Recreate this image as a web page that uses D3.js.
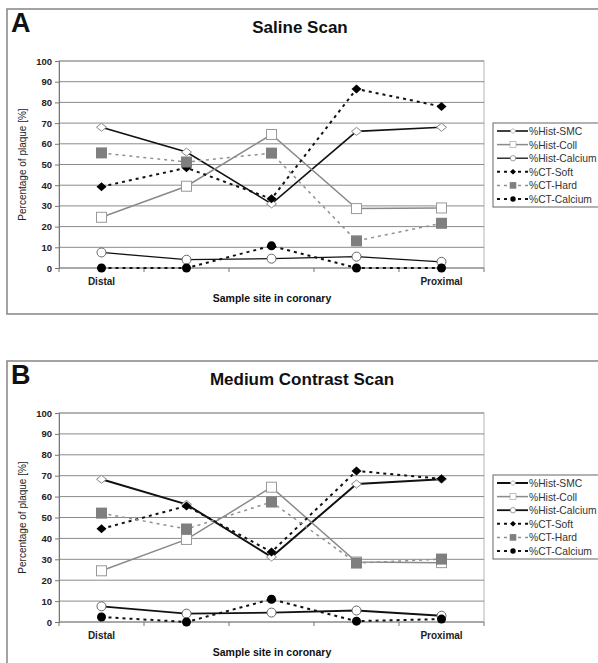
<!DOCTYPE html>
<html>
<head>
<meta charset="utf-8">
<script src="https://cdn.jsdelivr.net/npm/d3@7"></script>
<style>
  body { margin: 0; background: #fff; }
  svg { display: block; font-family: Arial, "Liberation Sans", sans-serif; }
</style>
</head>
<body>
<svg id="chart" width="598" height="663"></svg>
<script>
// sites along the coronary, only the ends are labelled
var sites = ["s1", "s2", "s3", "s4", "s5"];
var siteLabels = ["Distal", "", "", "", "Proximal"];
var yTicks = [0, 10, 20, 30, 40, 50, 60, 70, 80, 90, 100];
var seriesNames = ["%Hist-SMC", "%Hist-Coll", "%Hist-Calcium", "%CT-Soft", "%CT-Hard", "%CT-Calcium"];

// panel A - saline scan
var salineHistSMC = [68, 56, 31, 66, 68];
var salineHistColl = [24.5, 39.5, 64.5, 28.7, 29];
var salineHistCalcium = [7.5, 4, 4.5, 5.5, 3];
var salineCTSoft = [39.3, 48.4, 33.4, 86.5, 78];
var salineCTHard = [55.6, 51.2, 55.5, 13.1, 21.6];
var salineCTCalcium = [0, 0, 10.7, 0, 0];

// panel B - medium contrast scan
var mediumHistSMC = [68.3, 56.3, 31.1, 66, 68.3];
var mediumHistColl = [24.5, 39.5, 64.5, 28.7, 28.4];
var mediumHistCalcium = [7.5, 4, 4.5, 5.5, 3];
var mediumCTSoft = [44.6, 55.5, 33.5, 72.3, 68.5];
var mediumCTHard = [52.1, 44.5, 57.4, 28.2, 30.1];
var mediumCTCalcium = [2.4, 0, 10.9, 0.4, 1.4];

// line / marker style for each series
var styles = [
  { color: "#111", width: 1.6, dash: null, marker: "diamondOpen" },
  { color: "#8a8a8a", width: 1.5, dash: null, marker: "squareOpen" },
  { color: "#111", width: 1.3, dash: null, marker: "circleOpen" },
  { color: "#111", width: 2, dash: "3,4", marker: "diamond" },
  { color: "#909090", width: 1.5, dash: "3,4", marker: "squareGray" },
  { color: "#111", width: 2, dash: "3,4", marker: "circle" }
];

var svg = d3.select("#chart");

function diamondPath(w, h) {
  return "M0," + (-h) + "L" + w + ",0L0," + h + "L" + (-w) + ",0Z";
}

function drawMarker(g, type, x, y) {
  if (type == "diamondOpen") {
    g.append("path").attr("d", diamondPath(5, 4))
      .attr("transform", "translate(" + x + "," + y + ")")
      .attr("fill", "#fff").attr("stroke", "#888").attr("stroke-width", 1);
  } else if (type == "squareOpen") {
    g.append("rect").attr("x", x - 5).attr("y", y - 5).attr("width", 10).attr("height", 10)
      .attr("fill", "#fff").attr("stroke", "#999").attr("stroke-width", 1);
  } else if (type == "circleOpen") {
    g.append("circle").attr("cx", x).attr("cy", y).attr("r", 4.5)
      .attr("fill", "#fff").attr("stroke", "#666").attr("stroke-width", 1);
  } else if (type == "diamond") {
    g.append("path").attr("d", diamondPath(5, 4.5))
      .attr("transform", "translate(" + x + "," + y + ")")
      .attr("fill", "#000");
  } else if (type == "squareGray") {
    g.append("rect").attr("x", x - 5.5).attr("y", y - 5.5).attr("width", 11).attr("height", 11)
      .attr("fill", "#7f7f7f");
  } else {
    g.append("circle").attr("cx", x).attr("cy", y).attr("r", 4.5).attr("fill", "#000");
  }
}

function drawPanel(opt) {
  var g = svg.append("g");

  // outer frame
  g.append("rect").attr("x", 7).attr("y", opt.top).attr("width", 620).attr("height", opt.frameH)
    .attr("fill", "none").attr("stroke", "#8c8c8c").attr("stroke-width", 1.6);

  g.append("text").attr("x", 11).attr("y", opt.top + 23).text(opt.letter)
    .attr("font-size", 27).attr("font-weight", "bold").attr("fill", "#111");

  g.append("text").attr("x", opt.titleX).attr("y", opt.top + 24).text(opt.title)
    .attr("text-anchor", "middle").attr("font-size", 17).attr("font-weight", "bold").attr("fill", "#111");

  var x = d3.scaleBand().domain(sites).range([59, 484]);
  var y = d3.scaleLinear().domain([0, 100]).range([opt.y0, opt.y100]);
  var cx = function (d, i) { return x(sites[i]) + x.bandwidth() / 2; };

  // plot area box
  g.append("rect").attr("x", 59).attr("y", opt.y100).attr("width", 425).attr("height", opt.y0 - opt.y100)
    .attr("fill", "none").attr("stroke", "#b5b5b5").attr("stroke-width", 1);

  // gridlines
  g.selectAll(".grid").data(yTicks.slice(1)).enter().append("line")
    .attr("x1", 59).attr("x2", 484)
    .attr("y1", function (d) { return y(d); }).attr("y2", function (d) { return y(d); })
    .attr("stroke", "#8a8a8a").attr("stroke-width", 1);

  // y axis
  var ya = g.append("g").attr("transform", "translate(59,0)")
    .call(d3.axisLeft(y).tickValues(yTicks).tickSize(4).tickPadding(3));
  ya.select(".domain").attr("stroke", "#777");
  ya.selectAll(".tick line").attr("stroke", "#777");
  ya.selectAll("text").attr("font-size", 9.5).attr("font-weight", "bold").attr("fill", "#222")
    .attr("font-family", "Arial, sans-serif");

  // x axis, ticks on band edges
  var xa = g.append("g").attr("transform", "translate(0," + opt.y0 + ")");
  xa.append("line").attr("x1", 59).attr("x2", 484).attr("stroke", "#777");
  xa.selectAll(".xt").data(sites).enter().append("line")
    .attr("x1", function (d) { return x(d); }).attr("x2", function (d) { return x(d); })
    .attr("y1", 0).attr("y2", 4).attr("stroke", "#777");
  xa.append("line").attr("x1", 484).attr("x2", 484).attr("y1", 0).attr("y2", 4).attr("stroke", "#777");
  xa.selectAll(".xl").data(siteLabels).enter().append("text")
    .attr("x", cx).attr("y", 17).attr("text-anchor", "middle")
    .attr("font-size", 10).attr("font-weight", "bold").attr("fill", "#222")
    .text(function (d) { return d; });

  g.append("text").attr("x", 272).attr("y", opt.y0 + 34).attr("text-anchor", "middle")
    .attr("font-size", 10.5).attr("font-weight", "bold").attr("fill", "#111")
    .text("Sample site in coronary");

  g.append("text").attr("transform", "translate(26," + (opt.y0 + opt.y100) / 2 + ") rotate(-90)")
    .attr("text-anchor", "middle").attr("font-size", 10).attr("fill", "#222")
    .text("Percentage of plaque [%]");

  // series
  var line = d3.line().x(cx).y(function (d) { return y(d); });
  opt.series.forEach(function (vals, k) {
    var s = styles[k];
    g.append("path").datum(vals).attr("d", line)
      .attr("fill", "none").attr("stroke", s.color).attr("stroke-width", opt.widths ? opt.widths[k] : s.width)
      .attr("stroke-dasharray", s.dash);
  });
  opt.series.forEach(function (vals, k) {
    vals.forEach(function (v, i) { drawMarker(g, styles[k].marker, cx(v, i), y(v)); });
  });

  // legend
  var lg = g.append("g").attr("transform", "translate(493," + opt.legendTop + ")");
  lg.append("rect").attr("width", 130).attr("height", 84)
    .attr("fill", "#fff").attr("stroke", "#666").attr("stroke-width", 1);
  seriesNames.forEach(function (name, k) {
    var s = styles[k];
    var ry = 8 + k * 13.6;
    lg.append("line").attr("x1", 4).attr("x2", 35).attr("y1", ry).attr("y2", ry)
      .attr("stroke", s.color).attr("stroke-width", opt.widths ? opt.widths[k] : s.width)
      .attr("stroke-dasharray", s.dash);
    var m = lg.append("g").attr("transform", "translate(20," + ry + ") scale(0.6)");
    drawMarker(m, s.marker, 0, 0);
    lg.append("text").attr("x", 36).attr("y", ry + 4).attr("font-size", 10.3)
      .attr("fill", "#333")
      .text(name);
  });
}

drawPanel({
  letter: "A", title: "Saline Scan", titleX: 300, top: 9, frameH: 305,
  y0: 268, y100: 61, legendTop: 123,
  series: [salineHistSMC, salineHistColl, salineHistCalcium, salineCTSoft, salineCTHard, salineCTCalcium]
});

drawPanel({
  letter: "B", title: "Medium Contrast Scan", titleX: 302, top: 361, frameH: 320,
  y0: 622, y100: 413, legendTop: 475,
  widths: [2, 1.5, 1.8, 2, 1.5, 2],
  series: [mediumHistSMC, mediumHistColl, mediumHistCalcium, mediumCTSoft, mediumCTHard, mediumCTCalcium]
});
</script>
</body>
</html>
